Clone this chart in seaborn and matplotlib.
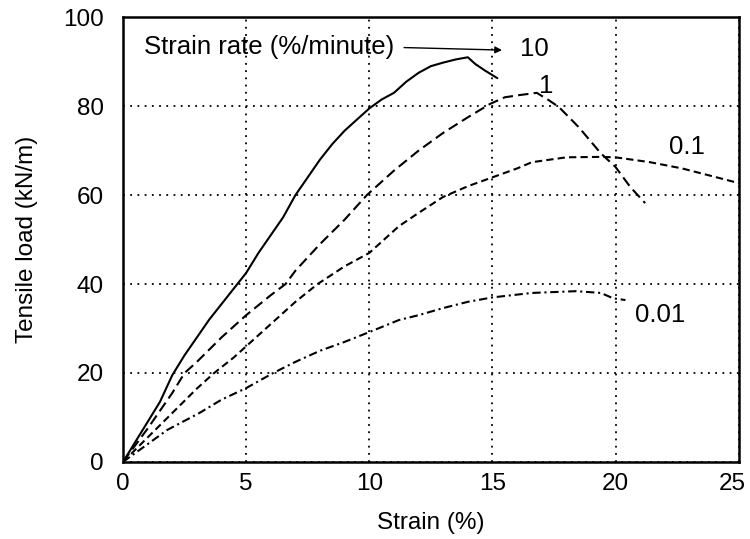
import matplotlib
matplotlib.use("Agg")
import matplotlib.pyplot as plt
import matplotlib.transforms as mtransforms
import seaborn as sns
import pandas as pd

# Data
x_10 = [0, 0.5, 1, 1.5, 2, 2.5, 3, 3.5, 4, 4.5, 5, 5.5, 6, 6.5, 7, 7.5, 8, 8.5, 9, 9.5,
        10, 10.5, 11, 11.5, 12, 12.5, 13, 13.5, 14, 14.3, 14.7, 15.2]
y_10 = [0, 4.5, 9, 13.5, 19.5, 24, 28, 32, 35.5, 39, 42.5, 47, 51, 55, 60, 64, 68, 71.5, 74.5, 77,
        79.5, 81.5, 83, 85.5, 87.5, 89, 89.8, 90.5, 91, 89.5, 88, 86.3]

x_1 = [0, 1, 2, 2.5, 3, 4, 5, 6, 6.6, 7, 8, 9, 9.9, 11, 12, 13, 14, 14.9, 15.5, 16.1, 16.8,
       17.3, 17.7, 18.5, 19.4, 20, 20.6, 21.2]
y_1 = [0, 7.5, 15.5, 20, 22.5, 28, 33, 37.5, 40, 43, 49, 54.5, 60, 65.5, 70, 74, 77.5, 80.5, 82, 82.5, 83,
       81.3, 79.8, 75.3, 69.4, 66.3, 61.8, 58.2]

x_01 = [0, 1, 2, 3, 3.7, 4.5, 5, 6, 7, 7.9, 9, 10, 11.2, 12, 13, 14, 15, 16, 16.6, 18, 19.4,
        20, 21.4, 22.7, 24.1, 25]
y_01 = [0, 5.5, 11, 16.5, 20, 23.5, 26, 31, 36, 40, 44, 47, 53, 56, 59.6, 62, 64, 66, 67.4, 68.5, 68.6,
        68.5, 67.4, 66, 64, 62.7]

x_001 = [0, 1, 1.8, 3.1, 4, 5, 6.1, 7, 8, 9, 10, 11.2, 12, 13, 14, 15, 16.6, 18.4, 19.4, 19.9, 20.4]
y_001 = [0, 4, 7.2, 11, 14, 16.6, 20, 22.5, 25, 27, 29.2, 31.9, 33, 34.6, 36, 37, 38, 38.4, 38, 36.8, 36.4]

x_ticks = [0, 5, 10, 15, 20, 25]
y_ticks = [0, 20, 40, 60, 80, 100]

sns.set_theme(style="white")
plt.rcParams['font.family'] = ['Liberation Sans', 'DejaVu Sans']

fig = plt.figure(figsize=(7.5, 5.39), dpi=100)
ax = fig.add_axes([0.164, 0.143, 0.821, 0.825])

styles = [
    (x_10, y_10, '-'),
    (x_1, y_1, (0, (5, 2.5))),
    (x_01, y_01, (0, (3.5, 2))),
    (x_001, y_001, (0, (4, 1.8, 1, 1.8))),
]
for xs, ys, ls in styles:
    df = pd.DataFrame({"x": xs, "y": ys})
    sns.lineplot(data=df, x="x", y="y", ax=ax, color="black", linewidth=1.5,
                 linestyle=ls, sort=False, estimator=None)

ax.set_xlim(0, 25)
ax.set_ylim(0, 100)
ax.set_xticks(x_ticks)
ax.set_yticks(y_ticks)
ax.tick_params(axis='both', length=0, labelsize=17.5, colors='black')
ax.tick_params(axis='x', pad=8)
ax.tick_params(axis='y', pad=14)
ax.grid(True, color='black', linestyle=(0, (1, 3)), linewidth=1.3)
for s in ax.spines.values():
    s.set_color('black')
    s.set_linewidth(1.8)
    s.set_visible(True)

# nudge the last x tick label slightly left so it stays inside the figure
last_lbl = ax.get_xticklabels()[-1]
last_lbl.set_transform(last_lbl.get_transform() +
                       mtransforms.ScaledTranslation(-6 / 100, 0, fig.dpi_scale_trans))

ax.set_xlabel("Strain (%)", fontsize=17.5, color='black', labelpad=12)
ax.set_ylabel("Tensile load (kN/m)", fontsize=17.5, color='black', labelpad=18)

fs_ann = 18.5
ax.text(0.85, 93.3, "Strain rate (%/minute)", fontsize=fs_ann, va='center', ha='left', color='black')
ax.annotate("", xy=(15.5, 92.6), xytext=(11.3, 93.2),
            arrowprops=dict(arrowstyle='-|>', color='black', lw=1.0, mutation_scale=10))
ax.text(16.7, 92.8, "10", fontsize=fs_ann, va='center', ha='center', color='black')
ax.text(17.2, 84.5, "1", fontsize=fs_ann, va='center', ha='center', color='black')
ax.text(22.9, 70.8, "0.1", fontsize=fs_ann, va='center', ha='center', color='black')
ax.text(21.8, 33.0, "0.01", fontsize=fs_ann, va='center', ha='center', color='black')

fig.savefig("out.png", dpi=100)
